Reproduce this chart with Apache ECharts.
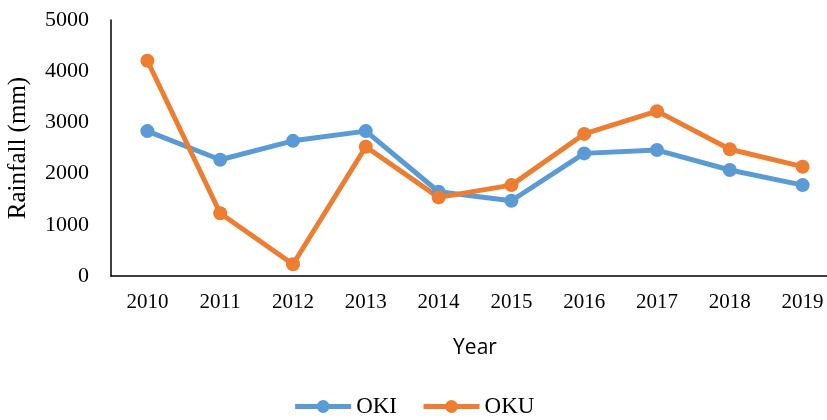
<!DOCTYPE html>
<html>
<head>
<meta charset="utf-8">
<script src="https://cdn.jsdelivr.net/npm/echarts@6/dist/echarts.min.js"></script>
<style>
  html, body { margin: 0; padding: 0; background: #fff; }
  #main { width: 827px; height: 420px; }
</style>
</head>
<body>
<div id="main"></div>
<script>
// 数据
const years = ['2010', '2011', '2012', '2013', '2014', '2015', '2016', '2017', '2018', '2019'];
const okiValues = [2830, 2270, 2640, 2830, 1645, 1470, 2395, 2460, 2070, 1775];
const okuValues = [4205, 1225, 230, 2525, 1535, 1775, 2775, 3220, 2475, 2135];
const yTicks = [0, 1000, 2000, 3000, 4000, 5000];

const serif = '"Liberation Serif", "DejaVu Serif", serif';

let myChart = echarts.init(document.getElementById('main'));

function makeSeries(name, data, color) {
    return {
        name: name,
        type: 'line',
        data: data,
        symbol: 'circle',
        symbolSize: 14,
        lineStyle: { color: color, width: 5 },
        itemStyle: { color: color }
    };
}

let option = {
    animation: false,
    legend: {
        bottom: -3,
        left: 'center',
        itemWidth: 56,
        itemHeight: 16,
        itemGap: 24,
        lineStyle: { width: 5 },
        textStyle: { fontFamily: serif, fontSize: 23, color: '#000' },
        data: ['OKI', 'OKU']
    },
    grid: {
        left: 111,
        right: -12,
        top: 20,
        bottom: 144,
        outerBoundsMode: 'none',
        containLabel: false
    },
    xAxis: {
        type: 'category',
        data: years,
        boundaryGap: true,
        name: 'Year',
        nameLocation: 'middle',
        nameGap: 62,
        nameTextStyle: { fontFamily: '"Open Sans", "Liberation Sans", sans-serif', fontSize: 21, color: '#000' },
        axisLine: { lineStyle: { color: '#000', width: 1.5 } },
        axisTick: { show: false },
        axisLabel: { fontFamily: serif, fontSize: 21, color: '#000', margin: 16 }
    },
    yAxis: {
        type: 'value',
        min: yTicks[0],
        max: yTicks[yTicks.length - 1],
        interval: 1000,
        name: 'Rainfall (mm)',
        nameLocation: 'middle',
        nameGap: 80,
        nameTextStyle: { fontFamily: serif, fontSize: 25, color: '#000' },
        axisLine: { show: true, lineStyle: { color: '#000', width: 1.5 } },
        axisTick: { show: false },
        splitLine: { show: false },
        axisLabel: { fontFamily: serif, fontSize: 22, color: '#000', margin: 22, formatter: v => String(v) }
    },
    series: [
        makeSeries('OKI', okiValues, '#5B9BD5'),
        makeSeries('OKU', okuValues, '#ED7D31')
    ]
};

myChart.setOption(option);
</script>
</body>
</html>
